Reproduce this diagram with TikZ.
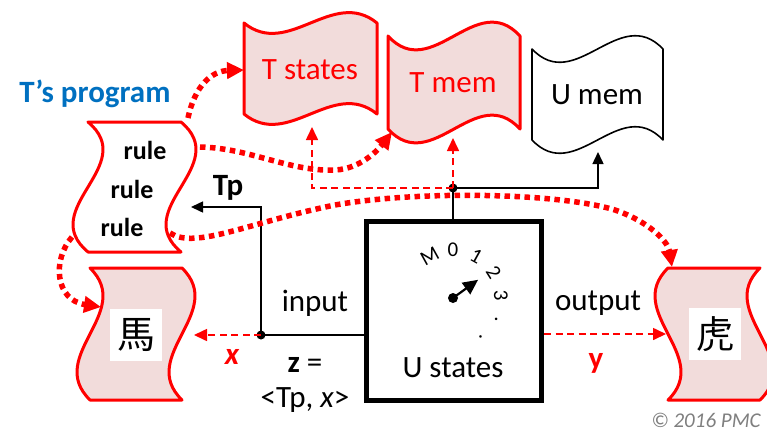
\documentclass[tikz,border=0pt]{standalone}
\usepackage{fontspec}
\setmainfont{Carlito}
\newfontfamily\cjk{Noto Sans CJK TC}
\usepackage{tikz}
\usetikzlibrary{arrows.meta, calc, positioning}
\definecolor{tu-red}{HTML}{FF0000}
\definecolor{tu-pink}{HTML}{F2DCDB}
\definecolor{tu-blue}{HTML}{0070C0}
\definecolor{tu-grey}{HTML}{7F7F7F}

% wavy tapes: top-left corner, width, height, bend
\newcommand\hwave[6][tape]{%
  \draw[#1] (#2,#3) .. controls ({#2+#4/3},{#3+(#6)}) and ({#2+2*#4/3},{#3-(#6)}) .. ({#2+#4},#3)
    -- ({#2+#4},{#3+#5}) .. controls ({#2+2*#4/3},{#3+#5-(#6)}) and ({#2+#4/3},{#3+#5+(#6)}) .. (#2,{#3+#5}) -- cycle;}
\newcommand\vwave[6][tape]{%
  \draw[#1] (#2,#3) -- ({#2+#4},#3) .. controls ({#2+#4+(#6)},{#3+#5/3}) and ({#2+#4-(#6)},{#3+2*#5/3}) .. ({#2+#4},{#3+#5})
    -- (#2,{#3+#5}) .. controls ({#2-(#6)},{#3+2*#5/3}) and ({#2+(#6)},{#3+#5/3}) .. (#2,#3) -- cycle;}

\tikzset{
  lbl/.style={font=\fontsize{31}{34}\selectfont, inner sep=0pt},
  blbl/.style={font=\fontsize{31}{34}\selectfont\bfseries, inner sep=0pt},
  rulelbl/.style={font=\fontsize{26}{28}\selectfont\bfseries, inner sep=0pt},
  dialnum/.style={font=\fontsize{21}{22}\selectfont, inner sep=0pt},
  tape/.style={draw=tu-red, line width=3pt, fill=tu-pink, line join=round},
  dot/.style={circle, fill=black, inner sep=0pt, minimum size=9pt},
  wire/.style={black, line width=1.5pt},
  feed/.style={tu-red, line width=1.6pt, dash pattern=on 7pt off 4.5pt, -{Triangle[length=13pt,width=12pt]}},
  flow/.style={tu-red, line width=5.5pt, dash pattern=on 5.5pt off 4.5pt, -{Triangle[length=17pt,width=16pt]}},
  hanzi/.style={fill=white, minimum size=52pt, inner sep=0pt, font=\cjk\fontsize{38}{40}\selectfont},
}

\begin{document}
\begin{tikzpicture}[x=1pt, y=-1pt, >=Triangle, line cap=butt]
  \useasboundingbox (0,0) rectangle (767,432);
  % tapes
  \hwave{244}{23}{133}{91}{36}
  \hwave{388}{36}{132}{93}{48}
  \hwave[black, line width=1.6pt, fill=white, line join=round]{532}{49}{131}{91}{46}
  \vwave[tape, fill=white]{88}{122}{93}{130}{52}
  \vwave{90}{268}{92}{132}{45}
  \vwave{668}{268}{92}{132}{-45}
  \node[lbl, text=tu-red] (tstates) at (310,70) {T states};
  \node[lbl, text=tu-red] (tmem) at (453,83) {T mem};
  \node[lbl] (umem) at (597,95) {U mem};
  \node[blbl, text=tu-blue] (prog) at (95,94) {T’s program};
  \node[rulelbl] (rule1) at (145,150) {rule};
  \node[rulelbl] (rule2) at (132,189) {rule};
  \node[rulelbl] (rule3) at (122,227) {rule};
  \node[hanzi] (horse) at (136,335) {馬};
  \node[hanzi] (tiger) at (715,334) {虎};

  % U machine
  \node[draw, line width=5pt, minimum width=175pt, minimum height=179pt] (ubox) at (454,311) {};
  \node[lbl] (ustates) at (453,368) {U states};
  \begin{scope}[shift={(453,298)}, y=1pt]
    \foreach \d [count=\i from 0] in {M,0,1,2,3,.,.}
      \node[dialnum, rotate={29-29*\i}] (d\i) at ({119-29*\i}:48) {\d};
    \node[dot, minimum size=10pt] (hub) at (0,0) {};
    \coordinate (hand) at (36:31);
    \draw[wire, line width=2.2pt, -{Triangle[length=15pt,width=14pt]}] (hub.center) -- (hand);
  \end{scope}

  % input side
  \node[dot] (j1) at (261,335) {};
  \coordinate (tpend) at (191,207);
  \coordinate (horsein) at (194,335);
  \draw[wire, -{Triangle[length=12pt,width=11pt]}] (j1.center) |- (tpend);
  \draw[wire] (j1.center) -- (j1 -| ubox.west);
  \draw[feed] (j1.center) -- (horsein);
  \node[blbl] (tp) at (228,188) {Tp};
  \node[lbl] (input) at (315,303) {input};
  \node[blbl, text=tu-red, font=\fontsize{31}{34}\selectfont\bfseries\itshape] (xlbl) at (232,357) {x};
  \node[lbl] (zeq) at (305,365) {\textbf{z} =};
  \node[lbl] (zval) at (305,400) {<Tp, \textit{x}>};

  % output side
  \coordinate (tigerin) at (666,334);
  \draw[feed] (ubox.east |- tigerin) -- (tigerin);
  \node[lbl] (output) at (598,303) {output};
  \node[blbl, text=tu-red] (ylbl) at (596,363) {y};

  % memory side
  \node[dot] (j2) at (453,188) {};
  \coordinate (umemin) at (598,152);
  \coordinate (tmemin) at (453,138);
  \coordinate (tstin) at (312,127);
  \draw[wire] (ubox.north -| j2) -- (j2.center);
  \draw[wire, -{Triangle[length=12pt,width=11pt]}] (j2.center) -| (umemin);
  \draw[feed] (j2.center) -- (tmemin);
  \draw[feed] (j2.center) -| (tstin);

  % program flow
  \coordinate (p1) at (188,118);
  \coordinate (p2) at (200,147);
  \coordinate (p3) at (170,233);
  \coordinate (p4) at (72,237);
  \coordinate (tsin) at (244,70);
  \coordinate (tmin) at (392,132);
  \coordinate (tgin) at (672,267);
  \coordinate (hsin) at (101,307);
  \draw[flow] (p1) .. controls (195,85) and (212,71) .. (tsin);
  \draw[flow] (p2) .. controls (250,148) and (290,172) .. (335,170) .. controls (360,169) and (378,150) .. (tmin);
  \draw[flow] (p3) .. controls (195,250) and (250,222) .. (335,205) .. controls (420,190) and (560,193) .. (615,210) .. controls (650,222) and (668,242) .. (tgin);
  \draw[flow] (p4) .. controls (52,260) and (55,300) .. (hsin);

  \node[font=\fontsize{21}{22}\selectfont\itshape, text=tu-grey, inner sep=0pt] (copy) at (706,420) {© 2016 PMC};
\end{tikzpicture}
\end{document}
